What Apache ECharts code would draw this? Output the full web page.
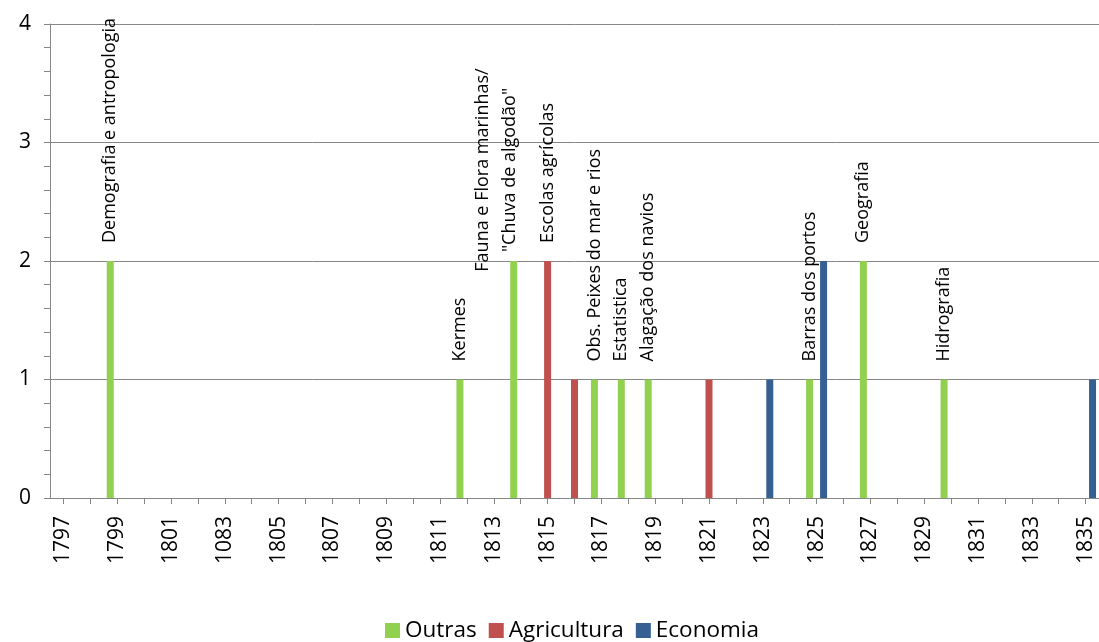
<!DOCTYPE html>
<html>
<head>
<meta charset="utf-8">
<script src="https://cdn.jsdelivr.net/npm/echarts@6/dist/echarts.min.js"></script>
<style>
html,body{margin:0;padding:0;background:#fff;}
#c{width:1099px;height:642px;}
</style>
</head>
<body>
<div id="c"></div>
<script>
// Categories (years) as printed in the source (note the "1083" typo)
const years = ['1797','1798','1799','1800','1801','1802','1083','1804','1805','1806','1807','1808','1809','1810','1811','1812','1813','1814','1815','1816','1817','1818','1819','1820','1821','1822','1823','1824','1825','1826','1827','1828','1829','1830','1831','1832','1833','1834','1835'];

const seriesNames = ['Outras', 'Agricultura', 'Economia'];

// values per year (null = no bar)
const outras = [null,null,2,null,null,null,null,null,null,null,null,null,null,null,null,1,null,2,null,null,1,1,1,null,null,null,null,null,1,null,2,null,null,1,null,null,null,null,null];
const agricultura = [null,null,null,null,null,null,null,null,null,null,null,null,null,null,null,null,null,null,2,1,null,null,null,null,1,null,null,null,null,null,null,null,null,null,null,null,null,null,null];
const economia = [null,null,null,null,null,null,null,null,null,null,null,null,null,null,null,null,null,null,null,null,null,null,null,null,null,null,1,null,2,null,null,null,null,null,null,null,null,null,1];

// annotations per year
const outrasNotes = ['','','Demografia e antropologia','','','','','','','','','','','','','Kermes','','Fauna e Flora marinhas/\n"Chuva de algodão"','','','Obs. Peixes do mar e rios','Estatistica','Alagação dos navios','','','','','','Barras dos portos','','Geografia','','','Hidrografia','','','','',''];
const agriculturaNotes = ['','','','','','','','','','','','','','','','','','','Escolas agrícolas','','','','','','','','','','','','','','','','','','','',''];
const economiaNotes = years.map(() => '');

const colors = ['#92D050', '#C0504D', '#366092'];
const FONT = '"Open Sans", "Liberation Sans", sans-serif';

function buildData(values, notes) {
  return values.map((v, i) => {
    const item = { value: v };
    if (notes[i] && notes[i].indexOf('\n') >= 0) {
      item.label = { align: 'center', verticalAlign: 'middle', offset: [73, -17], lineHeight: 27 };
    }
    return item;
  });
}

function mkSeries(name, values, notes, color) {
  return {
    name: name,
    type: 'bar',
    barWidth: 7,
    barGap: '0%',
    itemStyle: { color: color },
    data: buildData(values, notes),
    label: {
      show: true,
      position: 'top',
      distance: 18,
      rotate: 90,
      align: 'left',
      verticalAlign: 'middle',
      fontSize: 18,
      fontFamily: FONT,
      color: '#000',
      formatter: p => notes[p.dataIndex] || ''
    },
    emphasis: { disabled: true },
    silent: true
  };
}

const chart = echarts.init(document.getElementById('c'), null, { renderer: 'canvas' });
chart.setOption({
  animation: false,
  backgroundColor: '#fff',
  grid: { left: 50, right: 0, top: 24, bottom: 144, containLabel: false },
  legend: {
    top: 614,
    left: 380,
    icon: 'rect',
    itemWidth: 15,
    itemHeight: 15,
    itemGap: 12,
    textStyle: { fontSize: 22.5, fontFamily: FONT, color: '#000' },
    data: seriesNames
  },
  xAxis: {
    type: 'category',
    data: years,
    boundaryGap: true,
    axisLine: { lineStyle: { color: '#868686', width: 1 } },
    axisTick: { show: true, alignWithLabel: true, interval: 0, length: 6, lineStyle: { color: '#868686' } },
    axisLabel: { interval: 1, rotate: 90, margin: 18, fontSize: 21, fontFamily: FONT, color: '#000' },
    splitLine: { show: false }
  },
  yAxis: {
    type: 'value',
    min: 0, max: 4, interval: 1,
    axisLine: { show: true, lineStyle: { color: '#868686', width: 1 } },
    axisTick: { show: true, length: 6, lineStyle: { color: '#868686' } },
    minorTick: { show: true, splitNumber: 5, length: 6, lineStyle: { color: '#868686' } },
    splitLine: { show: true, lineStyle: { color: '#868686', width: 1 } },
    axisLabel: { margin: 19, fontSize: 21, fontFamily: FONT, color: '#000' }
  },
  series: [
    mkSeries(seriesNames[0], outras, outrasNotes, colors[0]),
    mkSeries(seriesNames[1], agricultura, agriculturaNotes, colors[1]),
    mkSeries(seriesNames[2], economia, economiaNotes, colors[2])
  ]
});
</script>
</body>
</html>
